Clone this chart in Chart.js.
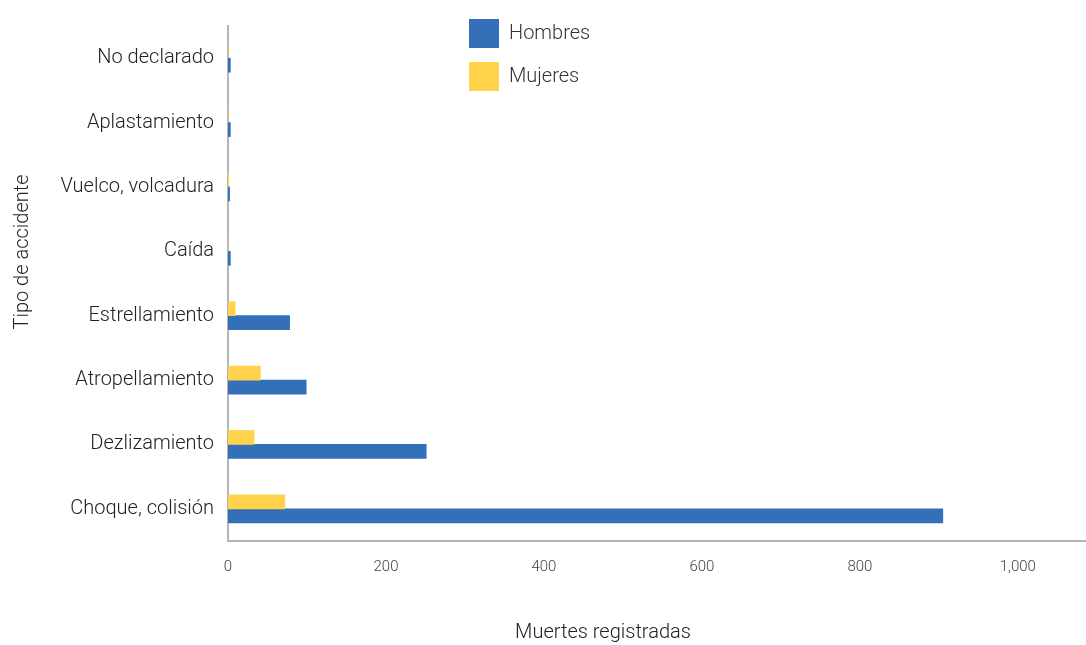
<!DOCTYPE html>
<html>
<head>
<meta charset="utf-8">
<script src="https://cdn.jsdelivr.net/npm/chart.js@4/dist/chart.umd.min.js"></script>
<style>
  html, body { margin: 0; padding: 0; background: #fff; }
  #wrap { position: relative; width: 1086px; height: 645px; }
</style>
</head>
<body>
<div id="wrap"><canvas id="bar-chart"></canvas></div>
<script>
// categories, top to bottom
const categorias = [
  'No declarado',
  'Aplastamiento',
  'Vuelco, volcadura',
  'Caída',
  'Estrellamiento',
  'Atropellamiento',
  'Dezlizamiento',
  'Choque, colisión'
];
const hombres = [3, 3, 2, 3, 78, 99, 251, 905];
const mujeres = [0, 0, 1, 0, 9, 41, 33, 72];
const xTicks = [0, 200, 400, 600, 800, 1000];
const xMax = 1085;

const fontFamily = 'Roboto, "Noto Sans", sans-serif';

// axis titles sit off-centre in the original, so draw them by hand
const axisTitles = {
  id: 'axisTitles',
  afterDraw(chart) {
    const ctx = chart.ctx;
    ctx.save();
    ctx.fillStyle = '#222';
    ctx.font = '300 20px ' + fontFamily;
    ctx.textAlign = 'center';
    ctx.textBaseline = 'middle';
    ctx.fillText('Muertes registradas', 603, 633);
    ctx.translate(23, 252);
    ctx.rotate(-Math.PI / 2);
    ctx.fillText('Tipo de accidente', 0, 0);
    ctx.restore();
  }
};

// move the vertical legend to where it sits in the reference
const legendSpot = {
  id: 'legendSpot',
  afterLayout(chart) {
    const lg = chart.legend;
    const w = lg.width, h = lg.height;
    lg.left = 455; lg.right = 455 + w;
    lg.top = 5; lg.bottom = 5 + h;
  }
};

let config = {
  type: 'bar',
  data: {
    labels: categorias,
    datasets: [
      {
        label: 'Mujeres',
        data: mujeres,
        backgroundColor: '#ffd24c',
        barThickness: 14
      },
      {
        label: 'Hombres',
        data: hombres,
        backgroundColor: '#3370b8',
        barThickness: 14
      }
    ]
  },
  options: {
    indexAxis: 'y',
    responsive: true,
    maintainAspectRatio: false,
    animation: false,
    locale: 'en-US',
    layout: { padding: { top: 11, right: 1, bottom: 0, left: 0 } },
    scales: {
      x: {
        min: 0,
        max: xMax,
        afterBuildTicks: (scale) => { scale.ticks = xTicks.map(v => ({ value: v })); },
        afterFit: (scale) => { scale.height = 104; },
        grid: { display: false, drawTicks: false },
        border: { display: true, color: '#b5b5b5', width: 2 },
        ticks: {
          includeBounds: false,
          padding: 17,
          color: '#444',
          font: { family: fontFamily, size: 15, weight: '300' }
        }
      },
      y: {
        afterFit: (scale) => { scale.width = 228; },
        grid: { display: false, drawTicks: false },
        border: { display: true, color: '#b5b5b5', width: 2 },
        ticks: {
          padding: 14,
          color: '#222',
          font: { family: fontFamily, size: 20, weight: '300' }
        }
      }
    },
    plugins: {
      legend: {
        position: 'chartArea',
        align: 'start',
        labels: {
          boxWidth: 30,
          boxHeight: 29,
          padding: 14,
          color: '#333',
          font: { family: fontFamily, size: 20, weight: '300' },
          sort: (a, b) => b.datasetIndex - a.datasetIndex
        }
      },
      tooltip: { enabled: false }
    }
  },
  plugins: [axisTitles, legendSpot]
};
let ctx = document.getElementById('bar-chart').getContext('2d');
window.myBar = new Chart(ctx, config);
</script>
</body>
</html>
